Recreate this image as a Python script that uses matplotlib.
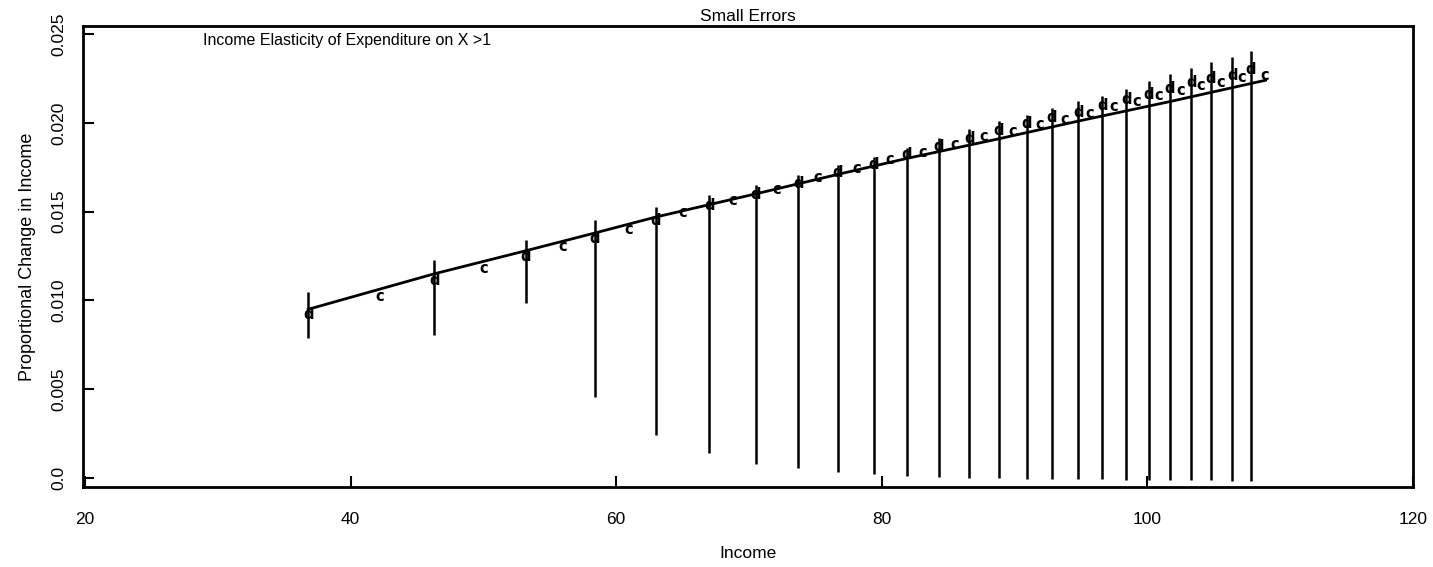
import numpy as np
import matplotlib
matplotlib.use("Agg")
import matplotlib.pyplot as plt

plt.rcParams['font.family'] = ['Liberation Sans', 'DejaVu Sans']

# "d" points (with error bars)
d_income = [36.8, 46.3, 53.2, 58.4, 63.0, 67.0, 70.5, 73.7, 76.7, 79.4, 81.9, 84.3, 86.6,
            88.8, 90.9, 92.8, 94.8, 96.6, 98.4, 100.1, 101.7, 103.3, 104.8, 106.4, 107.8]
d_value = [0.00923, 0.01111, 0.01248, 0.01351, 0.01448, 0.01534, 0.01597, 0.01657, 0.01723,
           0.01768, 0.01820, 0.01866, 0.01911, 0.01957, 0.01998, 0.02032, 0.02060, 0.02100,
           0.02130, 0.02161, 0.02191, 0.02225, 0.02248, 0.02264, 0.02300]
d_upper = [0.01046, 0.01229, 0.01340, 0.01452, 0.01525, 0.01592, 0.01651, 0.01704, 0.01760,
           0.01807, 0.01861, 0.01912, 0.01963, 0.02013, 0.02045, 0.02083, 0.02122, 0.02150,
           0.02192, 0.02236, 0.02274, 0.02311, 0.02344, 0.02369, 0.02407]
d_lower = [0.00788, 0.00805, 0.00985, 0.00456, 0.00240, 0.00138, 0.00080, 0.00055, 0.00035,
           0.00020, 0.00012, 0.00007, 0.00002, 0.00000, -0.00005, -0.00006, -0.00007, -0.00008,
           -0.00010, -0.00010, -0.00012, -0.00013, -0.00013, -0.00015, -0.00015]

# "c" points (no error bars)
c_income = [42.2, 50.0, 56.0, 60.9, 65.0, 68.8, 72.1, 75.2, 78.1, 80.6, 83.1, 85.5, 87.7,
            89.85, 91.9, 93.8, 95.65, 97.5, 99.2, 100.85, 102.5, 104.0, 105.55, 107.1, 108.8]
c_value = [0.01020, 0.01180, 0.01305, 0.01397, 0.01494, 0.01562, 0.01625, 0.01694, 0.01742,
           0.01791, 0.01832, 0.01877, 0.01922, 0.01951, 0.01991, 0.02020, 0.02054, 0.02094,
           0.02123, 0.02152, 0.02183, 0.02211, 0.02229, 0.02257, 0.02269]

# fitted curve
fit_income = [36.8, 46.3, 53.2, 58.4, 63.0, 70.5, 76.7, 81.9, 88.8, 94.8, 101.7, 108.9]
fit_value = [0.0095, 0.0115, 0.0128, 0.0138, 0.0147, 0.0160, 0.0171, 0.0180, 0.0191,
             0.0201, 0.0212, 0.0224]

fig = plt.figure(figsize=(14.33, 5.67), dpi=100)
ax = fig.add_axes([0.058, 0.141, 0.928, 0.813])

ax.plot(fit_income, fit_value, color='black', lw=2.0)
ax.vlines(d_income, d_lower, d_upper, color='black', lw=1.8)

for x, y in zip(d_income, d_value):
    ax.text(x, y, 'd', ha='center', va='center', fontsize=10.5, fontweight='bold',
            family='DejaVu Sans')
for x, y in zip(c_income, c_value):
    ax.text(x, y, 'c', ha='center', va='center', fontsize=10.5, fontweight='bold',
            family='DejaVu Sans')

ax.set_xlim(19.85, 119.92)
ax.set_ylim(-0.00051, 0.02545)
ax.set_xticks([20, 40, 60, 80, 100, 120])
ax.set_yticks([0.0, 0.005, 0.010, 0.015, 0.020, 0.025])
ax.set_yticklabels(['0.0', '0.005', '0.010', '0.015', '0.020', '0.025'],
                   rotation=90, va='center')

ax.tick_params(direction='in', length=8, width=1.5, labelsize=12.5)
ax.tick_params(axis='x', pad=18)
ax.tick_params(axis='y', pad=12)
for s in ax.spines.values():
    s.set_linewidth(2.0)

ax.set_xlabel('Income', fontsize=12.5, labelpad=14)
ax.set_ylabel('Proportional Change in Income', fontsize=13, labelpad=11)
ax.set_title('Small Errors', fontsize=12.5, pad=4)
ax.text(0.09, 0.985, 'Income Elasticity of Expenditure on X >1', transform=ax.transAxes,
        ha='left', va='top', fontsize=11.5)

fig.savefig('out.png', dpi=100)
